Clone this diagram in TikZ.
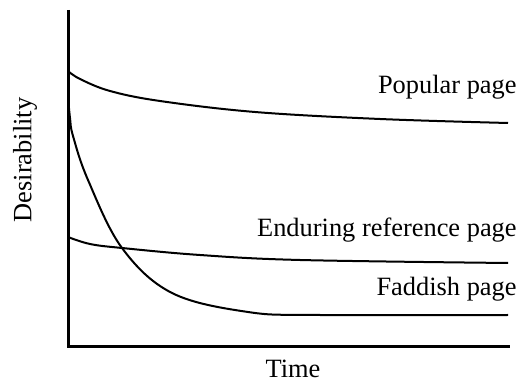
\documentclass[tikz,border=0pt]{standalone}
\usepackage{fontspec}
\setmainfont{Liberation Serif}
\tikzset{
  curve/.style={line width=1pt, smooth, tension=0.6},
  lbl/.style={font=\fontsize{13.2}{15}\selectfont, inner sep=0pt},
}
\begin{document}
\begin{tikzpicture}[x=0.5pt, y=-0.5pt]
        % frame of the picture
        \useasboundingbox (0,0) rectangle (523,383);

        % axes
        \coordinate (top) at (68,10);
        \coordinate (origin) at (68,347);
        \coordinate (xend) at (510,347);
        \draw[line width=1.5pt] (top) -- (origin) -- (xend);

        % axis labels
        \node[lbl] (time) at (293,369) {Time};
        \node[lbl, rotate=90] (desir) at (25,160) {Desirability};

        % popular page
        \draw[curve] plot coordinates {(68,71) (80,79) (110,91) (160,101)
          (255,112) (380,119) (508,123)};
        % faddish page
        \draw[curve] plot coordinates {(68,97) (70,118) (73,136) (88,180)
          (122,248) (172,293) (248,312) (320,315) (508,315)};
        % enduring reference page
        \draw[curve] plot coordinates {(68,237) (90,244) (122,248) (200,255)
          (300,260) (508,263)};

        % curve labels
        \node[lbl, anchor=east] (popular) at (517,87) {Popular page};
        \node[lbl, anchor=east] (enduring) at (517,230) {Enduring reference page};
        \node[lbl, anchor=east] (faddish) at (517,289) {Faddish page};
\end{tikzpicture}
\end{document}
